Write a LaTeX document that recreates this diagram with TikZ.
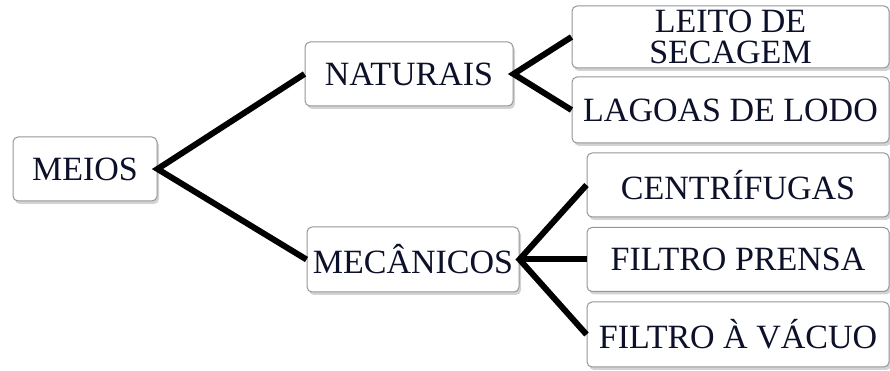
\documentclass[tikz,border=0pt]{standalone}
\usepackage{fontspec}
\setmainfont{Liberation Serif}
\usepackage{xcolor}
\usetikzlibrary{positioning, shadows}
\definecolor{cardBorder}{RGB}{150, 150, 150}
\definecolor{cardText}{RGB}{12, 16, 40}

\begin{document}
\begin{tikzpicture}[
    x=1pt, y=1pt,
    card/.style={draw=cardBorder, fill=white, text=cardText, rounded corners=5pt, line width=1pt, align=center, inner sep=2pt, minimum height=64pt, font=\fontsize{34}{31}\selectfont, drop shadow={opacity=0.35, shadow xshift=2pt, shadow yshift=-3pt}},
    rootBox/.style={card, minimum width=144pt},
    midBox/.style={card, minimum width=210pt},
    leafBox/.style={card, minimum width=317pt},
    leafBoxB/.style={card, minimum width=302pt},
    branch/.style={line width=6pt, draw=black}
]
    \useasboundingbox (0,0) rectangle (890,371);

    % Nodes
    \node[rootBox] (meios) at (85,202) {MEIOS};

    \node[midBox, minimum width=208pt, right=147pt of meios, yshift=95pt] (naturais) {NATURAIS};
    \node[midBox, minimum width=212pt, minimum height=65pt, right=149pt of meios, yshift=-90.5pt] (mecanicos) {MECÂNICOS};

    \node[leafBox, minimum height=62pt, right=58pt of naturais, yshift=37pt] (leito) {LEITO DE\\SECAGEM};
    \node[leafBox, minimum height=66pt, right=58pt of naturais, yshift=-36pt] (lagoas) {LAGOAS DE LODO};

    \node[leafBoxB, right=67pt of mecanicos, yshift=74.5pt] (centrifugas) {CENTRÍFUGAS};
    \node[leafBoxB, right=67pt of mecanicos] (prensa) {FILTRO PRENSA};
    \node[leafBoxB, minimum height=65pt, right=67pt of mecanicos, yshift=-75pt] (vacuo) {FILTRO À VÁCUO};

    % Branches
    \draw[branch] (naturais.west) -- (meios.east) -- (mecanicos.west);
    \draw[branch] (leito.west) -- (naturais.east) -- (lagoas.west);
    \draw[branch] (centrifugas.west) -- (mecanicos.east) -- (vacuo.west);
    \draw[branch] (mecanicos.east) -- (prensa.west);

\end{tikzpicture}
\end{document}
